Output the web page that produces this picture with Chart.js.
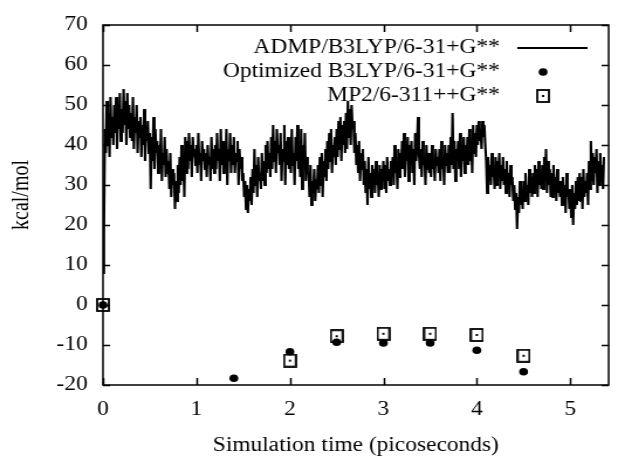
<!DOCTYPE html>
<html>
<head>
<meta charset="utf-8">
<script src="https://cdn.jsdelivr.net/npm/chart.js@4/dist/chart.umd.min.js"></script>
<style>
  html, body { margin: 0; padding: 0; background: #ffffff; }
  #wrap { width: 618px; height: 456px; overflow: hidden; }
  /* the figure is laid out on a narrower canvas and shown widened, like the printed figure */
  #chart { width: 618px; height: 456px; display: block; }
</style>
</head>
<body>
<div id="wrap"><canvas id="chart" width="528" height="456" style="width:618px;height:456px"></canvas></div>
<script>
// Series labels
const admpLabel = 'ADMP/B3LYP/6-31+G**';
const optLabel = 'Optimized B3LYP/6-31+G**';
const mp2Label = 'MP2/6-311++G**';

// ADMP trajectory: relative energy (kcal/mol), one sample every 0.01 ps starting at t = 0
const admpStepPs = 0.01;
const admpEnergy = [
  8, 19, 44, 38, 51, 40, 48, 37, 52, 42,
  47, 40, 50, 43, 52, 39, 48, 44, 53, 41,
  49, 43, 54, 45, 51, 40, 53, 44, 50, 42,
  48, 41, 52, 39, 47, 43, 50, 38, 46, 42,
  47, 37, 45, 40, 49, 36, 44, 41, 46, 38,
  43, 29, 42, 36, 47, 34, 44, 38, 41, 33,
  40, 34, 44, 31, 38, 35, 42, 32, 39, 33,
  36, 29, 38, 27, 34, 30, 33, 24, 31, 26,
  35, 28, 37, 30, 40, 31, 38, 27, 42, 33,
  41, 34, 43, 36, 40, 32, 42, 37, 39, 35,
  40, 33, 43, 35, 38, 31, 41, 36, 39, 34,
  38, 32, 40, 35, 37, 31, 42, 34, 39, 33,
  40, 34, 43, 36, 39, 31, 44, 35, 41, 33,
  41, 34, 44, 30, 39, 36, 43, 33, 40, 35,
  42, 33, 38, 36, 41, 30, 39, 34, 37, 31,
  33, 27, 31, 24, 30, 23, 29, 26, 32, 25,
  34, 28, 39, 30, 35, 27, 37, 31, 33, 29,
  38, 31, 36, 30, 40, 33, 41, 34, 38, 32,
  42, 34, 45, 36, 41, 33, 44, 38, 40, 35,
  43, 31, 39, 36, 45, 30, 41, 35, 42, 34,
  40, 33, 44, 35, 38, 30, 42, 36, 45, 34,
  39, 32, 44, 29, 40, 35, 43, 31, 37, 33,
  33, 27, 35, 25, 31, 28, 34, 26, 30, 29,
  35, 28, 37, 30, 38, 27, 36, 32, 39, 31,
  41, 34, 43, 36, 44, 33, 40, 37, 42, 35,
  44, 37, 46, 39, 47, 36, 45, 40, 46, 38,
  48, 39, 51, 42, 49, 40, 50, 44, 46, 38,
  43, 35, 40, 33, 41, 31, 38, 34, 39, 30,
  36, 28, 34, 25, 37, 29, 33, 27, 35, 30,
  34, 28, 36, 30, 33, 27, 35, 29, 34, 31,
  36, 29, 35, 28, 37, 31, 34, 30, 36, 32,
  37, 30, 40, 33, 36, 29, 39, 32, 38, 34,
  41, 34, 43, 32, 39, 36, 42, 31, 40, 35,
  41, 33, 39, 30, 43, 36, 40, 47, 38, 34,
  39, 32, 41, 35, 37, 30, 40, 34, 38, 33,
  38, 32, 40, 34, 36, 31, 39, 35, 37, 33,
  39, 31, 41, 34, 37, 30, 40, 35, 38, 33,
  40, 33, 42, 35, 48, 34, 41, 31, 39, 36,
  41, 34, 43, 32, 39, 36, 42, 33, 40, 35,
  42, 35, 44, 36, 41, 33, 45, 38, 43, 37,
  45, 40, 46, 41, 44, 39, 46, 42, 45, 40,
  36, 28, 37, 31, 35, 30, 38, 32, 34, 29,
  37, 30, 36, 32, 38, 29, 35, 31, 37, 30,
  34, 28, 36, 29, 33, 27, 35, 30, 32, 26,
  30, 24, 28, 19, 27, 23, 31, 25, 29, 24,
  31, 26, 33, 27, 30, 25, 34, 28, 32, 27,
  33, 28, 35, 29, 34, 27, 36, 30, 33, 29,
  35, 29, 37, 31, 39, 28, 36, 30, 34, 27,
  33, 27, 35, 29, 32, 26, 34, 28, 31, 27,
  31, 25, 32, 26, 30, 23, 33, 27, 29, 24,
  29, 22, 30, 20, 28, 24, 31, 25, 32, 26,
  33, 26, 32, 24, 34, 27, 31, 28, 33, 25,
  36, 29, 41, 31, 38, 30, 37, 33, 39, 28,
  36, 30, 38, 31, 35, 29, 37
];

// Optimized B3LYP/6-31+G** single points
const optTime = [0, 1.4, 2.0, 2.5, 3.0, 3.5, 4.0, 4.5];
const optEnergy = [0, -18.3, -11.7, -9.3, -9.5, -9.5, -11.3, -16.7];

// MP2/6-311++G** single points
const mp2Time = [0, 2.0, 2.5, 3.0, 3.5, 4.0, 4.5];
const mp2Energy = [0, -13.9, -7.8, -7.2, -7.2, -7.5, -12.7];

// Axis settings
const xMin = 0, xMax = 5.41, xStep = 1;
const yMin = -20, yMax = 70, yStep = 10;
const xTitle = 'Simulation time (picoseconds)';
const yTitle = 'kcal/mol';

const FONT_FAMILY = '"Liberation Serif", "Times New Roman", serif';
const FONT_SIZE = 20;

const admpPoints = admpEnergy.map((e, i) => ({ x: +(i * admpStepPs).toFixed(2), y: e }));
const optPoints = optTime.map((t, i) => ({ x: t, y: optEnergy[i] }));
const mp2Points = mp2Time.map((t, i) => ({ x: t, y: mp2Energy[i] }));

// open box with a centre dot, used as the MP2 marker
function makeBoxMarker() {
  const c = document.createElement('canvas');
  c.width = 12; c.height = 14;
  const g = c.getContext('2d');
  g.strokeStyle = '#000';
  g.lineWidth = 1.8;
  g.strokeRect(1, 1, 10, 12);
  g.fillStyle = '#000';
  g.fillRect(5, 6, 2, 2);
  return c;
}
const boxMarker = makeBoxMarker();

// frame with inward tick marks on all four sides, axis titles and the key
const framePlugin = {
  id: 'frame',
  afterDatasetsDraw(chart) {
    const { ctx, chartArea: a, scales } = chart;
    const xs = scales.x, ys = scales.y;
    ctx.save();
    ctx.strokeStyle = '#000';
    ctx.lineWidth = 1.5;
    ctx.strokeRect(a.left, a.top, a.right - a.left, a.bottom - a.top);
    ctx.beginPath();
    ys.ticks.forEach(t => {
      const py = Math.round(ys.getPixelForValue(t.value)) + 0.5;
      ctx.moveTo(a.left, py); ctx.lineTo(a.left + 6, py);
      ctx.moveTo(a.right, py); ctx.lineTo(a.right - 6, py);
    });
    xs.ticks.forEach(t => {
      const px = Math.round(xs.getPixelForValue(t.value)) + 0.5;
      ctx.moveTo(px, a.bottom); ctx.lineTo(px, a.bottom - 7);
      ctx.moveTo(px, a.top); ctx.lineTo(px, a.top + 7);
    });
    ctx.stroke();

    ctx.font = FONT_SIZE + 'px ' + FONT_FAMILY;
    ctx.fillStyle = '#000';
    ctx.textBaseline = 'middle';

    // axis titles
    ctx.textAlign = 'center';
    ctx.fillText(xTitle, (a.left + a.right) / 2, 446);
    ctx.save();
    ctx.translate(19, 195);
    ctx.rotate(-Math.PI / 2);
    ctx.fillText(yTitle, 0, 0);
    ctx.restore();

    // key: right-aligned labels with samples to their right
    const textRight = 427;
    const sampleX0 = 442, sampleX1 = 502, sampleMid = 464;
    const rows = [48, 72, 96];
    ctx.textAlign = 'right';
    const ds = chart.data.datasets;
    ctx.fillText(ds[0].label, textRight, rows[0]);
    ctx.fillText(ds[1].label, textRight, rows[1]);
    ctx.fillText(ds[2].label, textRight, rows[2]);
    ctx.lineWidth = 2;
    ctx.beginPath();
    ctx.moveTo(sampleX0, rows[0]); ctx.lineTo(sampleX1, rows[0]);
    ctx.stroke();
    ctx.beginPath();
    ctx.arc(sampleMid, rows[1], 3.8, 0, Math.PI * 2);
    ctx.fill();
    ctx.drawImage(boxMarker, sampleMid - 6, rows[2] - 7);
    ctx.restore();
  }
};

const tickFont = { family: FONT_FAMILY, size: FONT_SIZE };

new Chart(document.getElementById('chart'), {
  type: 'scatter',
  data: {
    datasets: [
      {
        label: admpLabel,
        data: admpPoints,
        showLine: true,
        borderColor: '#000',
        borderWidth: 2.1,
        pointRadius: 0,
        tension: 0,
        order: 3
      },
      {
        label: optLabel,
        data: optPoints,
        showLine: false,
        pointStyle: 'circle',
        pointRadius: 3.8,
        backgroundColor: '#000',
        borderColor: '#000',
        borderWidth: 0,
        clip: false,
        order: 2
      },
      {
        label: mp2Label,
        data: mp2Points,
        showLine: false,
        pointStyle: boxMarker,
        pointRadius: 7,
        clip: false,
        order: 1
      }
    ]
  },
  options: {
    responsive: false,
    animation: false,
    events: [],
    layout: { padding: { top: 21, right: 5, left: 0, bottom: 0 } },
    plugins: { legend: { display: false }, tooltip: { enabled: false } },
    scales: {
      x: {
        type: 'linear',
        min: xMin, max: xMax,
        grid: { display: false, drawTicks: false },
        border: { display: false },
        ticks: { stepSize: xStep, includeBounds: false, color: '#000', font: tickFont, padding: 13, maxRotation: 0 },
        title: { display: false, text: xTitle },
        afterFit(s) { s.height = 71; }
      },
      y: {
        type: 'linear',
        min: yMin, max: yMax,
        grid: { display: false, drawTicks: false },
        border: { display: false },
        ticks: { stepSize: yStep, color: '#000', font: tickFont, padding: 13 },
        title: { display: false, text: yTitle },
        afterFit(s) { s.width = 88; }
      }
    }
  },
  plugins: [framePlugin]
});
</script>
</body>
</html>
